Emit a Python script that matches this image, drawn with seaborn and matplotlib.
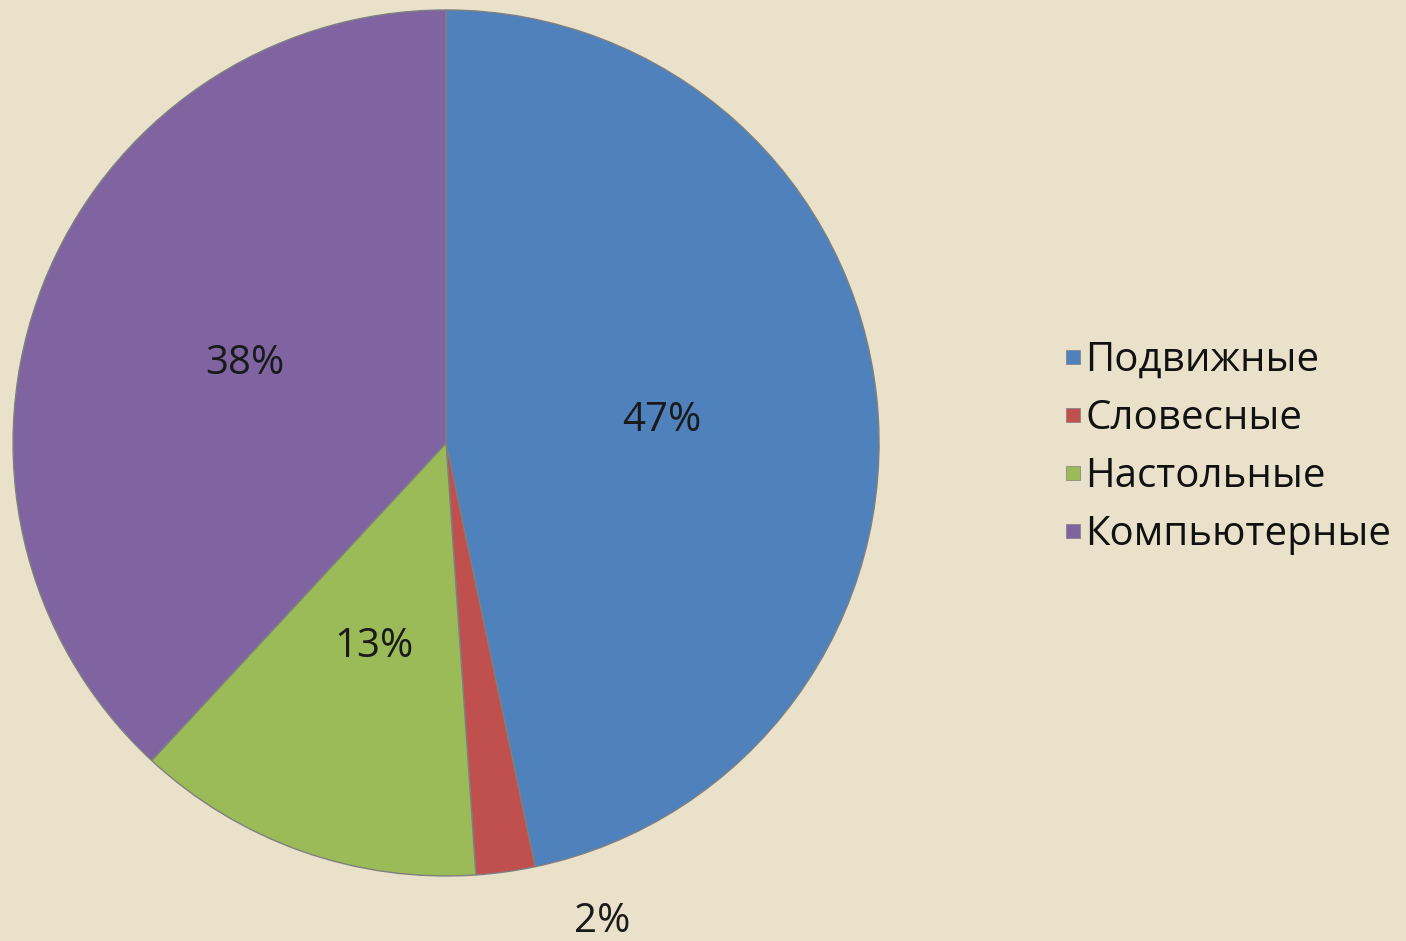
import numpy as np
import matplotlib.pyplot as plt
import seaborn as sns
from matplotlib.lines import Line2D

sns.set_theme(style="white")
plt.rcParams["font.family"] = ["Open Sans", "DejaVu Sans"]

# data
categories = ["Подвижные", "Словесные", "Настольные", "Компьютерные"]
shares = [46.7, 2.2, 13.0, 38.1]
colors = ["#4F81BD", "#C0504D", "#9BBB59", "#8064A2"]

bg = "#E9E1CA"

fig = plt.figure(figsize=(14.06, 9.41), dpi=100, facecolor=bg)
ax = fig.add_axes([0.00925, 0.0691, 0.616, 0.9203])
ax.set_facecolor(bg)

wedges, texts, autotexts = ax.pie(
    shares, colors=colors, startangle=90, counterclock=False,
    autopct="%.0f%%", pctdistance=0.5, radius=1,
    wedgeprops=dict(edgecolor="#7f7f7f", linewidth=1.0),
    textprops=dict(fontsize=29, color="#1a1a1a"),
)
ax.set_xlim(-1, 1)
ax.set_ylim(-1, 1)
ax.set_aspect("equal")

# small slice label goes outside, below the pie
small = int(np.argmin(shares))
autotexts[small].set_position((0.36, -1.105))
autotexts[small].set_clip_on(False)

handles = [Line2D([0], [0], marker="s", linestyle="", markersize=10,
                  markerfacecolor=c, markeredgecolor="#7f7f7f", markeredgewidth=0.5)
           for c in colors]
fig.legend(handles, categories, loc="center left", bbox_to_anchor=(0.746, 0.524),
           frameon=False, fontsize=29, handlelength=0.4, handletextpad=0.1,
           labelspacing=0.44, borderaxespad=0, labelcolor="#111111")

fig.savefig("out.png", dpi=100, facecolor=bg)
